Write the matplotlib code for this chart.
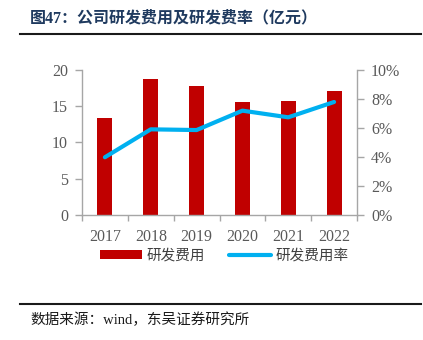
import matplotlib
matplotlib.use("Agg")
import matplotlib.pyplot as plt
from matplotlib.lines import Line2D
from matplotlib.patches import Patch

plt.rcParams['font.family'] = ['Liberation Serif', 'Noto Sans CJK SC']

years = ['2017', '2018', '2019', '2020', '2021', '2022']
rd_expense = [13.3, 18.7, 17.8, 15.6, 15.7, 17.1]
rd_rate = [3.97, 5.9, 5.85, 7.19, 6.73, 7.79]
left_ticks = [0, 5, 10, 15, 20]
right_ticks = [0, 2, 4, 6, 8, 10]

W, H = 423, 340
fig = plt.figure(figsize=(W / 100, H / 100), dpi=100)

ax = fig.add_axes([82 / W, 1 - 214.7 / H, (357 - 82) / W, (214.7 - 70) / H])
x = list(range(len(years)))
ax.bar(x, rd_expense, width=0.33, color='#C00000', zorder=2)
ax.set_xlim(-0.5, len(years) - 0.5)
ax.set_ylim(0, 20)
ax.set_yticks(left_ticks)
ax.set_yticklabels([str(t) for t in left_ticks])
ax.set_xticks(x)
ax.set_xticklabels(years)
ax.set_xticks([i - 0.5 for i in range(len(years) + 1)], minor=True)
ax.tick_params(axis='x', which='major', length=0, pad=10, labelsize=11.5, labelcolor='#595959')
ax.tick_params(axis='x', which='minor', length=4, color='#A6A6A6', width=1)
ax.tick_params(axis='y', length=5, color='#A6A6A6', width=1, labelsize=11.5, labelcolor='#595959', pad=5)
for s in ['top', 'right']:
    ax.spines[s].set_visible(False)
for s in ['left', 'bottom']:
    ax.spines[s].set_color('#A6A6A6')
    ax.spines[s].set_linewidth(1)

ax2 = ax.twinx()
ax2.plot(x, rd_rate, color='#00B0F0', lw=3, solid_capstyle='round', zorder=3)
ax2.set_ylim(0, 10)
ax2.set_yticks(right_ticks)
ax2.set_yticklabels([f'{t}%' for t in right_ticks])
ax2.tick_params(axis='y', length=5, color='#A6A6A6', width=1, labelsize=11.5, labelcolor='#595959', pad=5)
for s in ['top', 'left', 'bottom']:
    ax2.spines[s].set_visible(False)
ax2.spines['right'].set_color('#A6A6A6')
ax2.spines['right'].set_linewidth(1)

handles = [Patch(facecolor='#C00000', edgecolor='none'),
           Line2D([0], [0], color='#00B0F0', lw=3, solid_capstyle='round')]
fig.legend(handles, ['研发费用', '研发费用率'], loc='center', bbox_to_anchor=(0.53, 1 - 256 / H),
           ncol=2, frameon=False, handlelength=2.9, handleheight=0.55, columnspacing=1.6,
           handletextpad=0.3, prop={'family': ['Noto Sans CJK SC'], 'size': 10.5},
           labelcolor='#404040')

fig.text(30 / W, 1 - 18 / H, '图47：公司研发费用及研发费率（亿元）', fontsize=11.5, fontweight='bold',
         color='#1F3A5F', va='center', ha='left', family=['Liberation Serif', 'Noto Sans CJK SC'])
fig.add_artist(Line2D([20 / W, 421 / W], [1 - 33.5 / H, 1 - 33.5 / H], color='#1a1a1a', lw=1.5))
fig.add_artist(Line2D([20 / W, 421 / W], [1 - 303.5 / H, 1 - 303.5 / H], color='#1a1a1a', lw=1.5))
fig.text(30 / W, 1 - 320 / H, '数据来源：wind，东吴证券研究所', fontsize=10.5, color='#1a1a1a',
         va='center', ha='left', family=['Liberation Serif', 'Noto Sans CJK SC'])

fig.savefig('out.png', dpi=100)
